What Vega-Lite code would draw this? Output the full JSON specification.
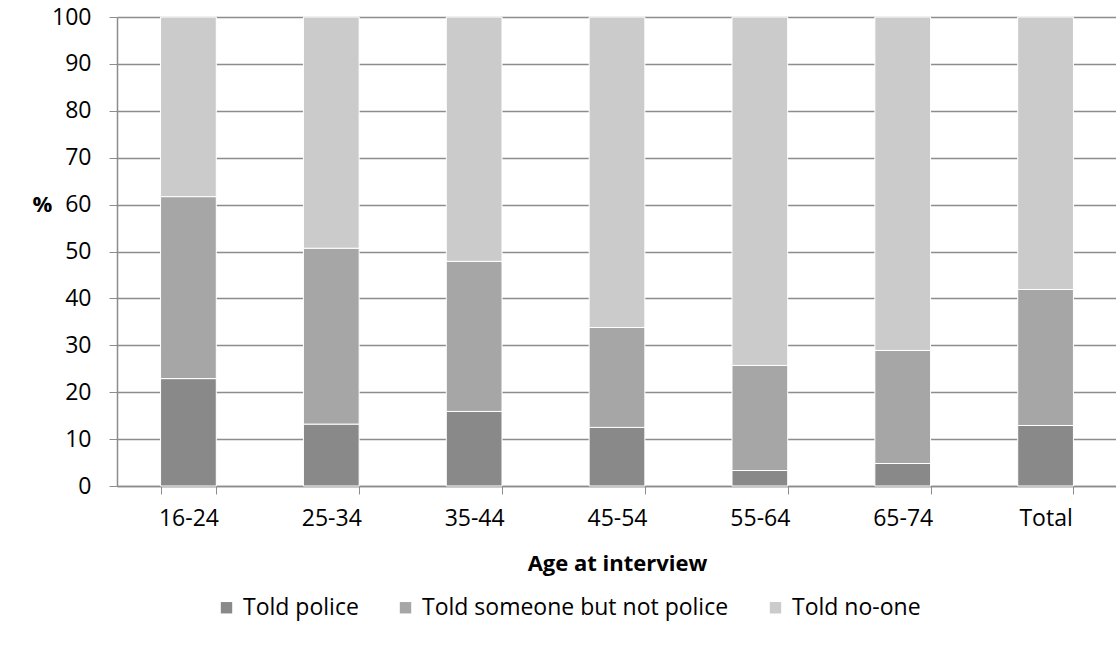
{
  "$schema": "https://vega.github.io/schema/vega-lite/v6.json",
  "width": 1000,
  "height": 469,
  "autosize": {"type": "none"},
  "padding": {"left": 117, "top": 17, "right": 0, "bottom": 163},
  "background": "white",
  "data": {
    "values": [
      {"age": "16-24", "response": "Told police", "seq": 1, "pct": 22.9},
      {"age": "16-24", "response": "Told someone but not police", "seq": 2, "pct": 38.8},
      {"age": "16-24", "response": "Told no-one", "seq": 3, "pct": 38.3},
      {"age": "25-34", "response": "Told police", "seq": 1, "pct": 13.2},
      {"age": "25-34", "response": "Told someone but not police", "seq": 2, "pct": 37.5},
      {"age": "25-34", "response": "Told no-one", "seq": 3, "pct": 49.3},
      {"age": "35-44", "response": "Told police", "seq": 1, "pct": 15.9},
      {"age": "35-44", "response": "Told someone but not police", "seq": 2, "pct": 32.0},
      {"age": "35-44", "response": "Told no-one", "seq": 3, "pct": 52.1},
      {"age": "45-54", "response": "Told police", "seq": 1, "pct": 12.5},
      {"age": "45-54", "response": "Told someone but not police", "seq": 2, "pct": 21.3},
      {"age": "45-54", "response": "Told no-one", "seq": 3, "pct": 66.2},
      {"age": "55-64", "response": "Told police", "seq": 1, "pct": 3.3},
      {"age": "55-64", "response": "Told someone but not police", "seq": 2, "pct": 22.4},
      {"age": "55-64", "response": "Told no-one", "seq": 3, "pct": 74.3},
      {"age": "65-74", "response": "Told police", "seq": 1, "pct": 4.8},
      {"age": "65-74", "response": "Told someone but not police", "seq": 2, "pct": 24.1},
      {"age": "65-74", "response": "Told no-one", "seq": 3, "pct": 71.1},
      {"age": "Total", "response": "Told police", "seq": 1, "pct": 12.9},
      {"age": "Total", "response": "Told someone but not police", "seq": 2, "pct": 29.0},
      {"age": "Total", "response": "Told no-one", "seq": 3, "pct": 58.1}
    ]
  },
  "mark": {"type": "bar", "stroke": "white", "strokeWidth": 1},
  "encoding": {
    "x": {
      "field": "age",
      "type": "nominal",
      "sort": ["16-24", "25-34", "35-44", "45-54", "55-64", "65-74", "Total"],
      "scale": {"paddingInner": 0.61, "paddingOuter": 0.305},
      "axis": {
        "title": "Age at interview",
        "titleFont": "Open Sans",
        "titleFontSize": 22,
        "titleFontWeight": "bold",
        "titleColor": "black",
        "titleY": 77,
        "titleBaseline": "middle",
        "labelFont": "Open Sans",
        "labelFontSize": 23,
        "labelColor": "black",
        "labelAngle": 0,
        "labelPadding": 13,
        "tickBand": "extent",
        "tickSize": 8,
        "tickColor": "#8c8c8c",
        "domainColor": "#8c8c8c",
        "domainWidth": 1.5,
        "grid": false
      }
    },
    "y": {
      "field": "pct",
      "type": "quantitative",
      "stack": "zero",
      "scale": {"domain": [0, 100], "nice": false},
      "axis": {
        "title": "%",
        "titleAngle": 0,
        "titleFont": "Open Sans",
        "titleFontSize": 22,
        "titleFontWeight": "bold",
        "titleColor": "black",
        "titleX": -75,
        "titleY": 187,
        "titleAlign": "center",
        "titleBaseline": "middle",
        "values": [0, 10, 20, 30, 40, 50, 60, 70, 80, 90, 100],
        "labelFont": "Open Sans",
        "labelFontSize": 23,
        "labelColor": "black",
        "labelPadding": 18,
        "tickSize": 8,
        "tickColor": "#8c8c8c",
        "domainColor": "#8c8c8c",
        "domainWidth": 1.5,
        "gridColor": "#8c8c8c",
        "gridWidth": 1.5
      }
    },
    "order": {"field": "seq", "type": "quantitative", "sort": "ascending"},
    "color": {
      "field": "response",
      "type": "nominal",
      "scale": {
        "domain": ["Told police", "Told someone but not police", "Told no-one"],
        "range": ["#898989", "#a6a6a6", "#cbcbcb"]
      },
      "legend": {
        "title": null,
        "orient": "none",
        "direction": "horizontal",
        "legendX": 98,
        "legendY": 579,
        "padding": 0,
        "symbolType": "square",
        "symbolSize": 130,
        "symbolStrokeWidth": 0,
        "labelFont": "Open Sans",
        "labelFontSize": 23,
        "labelLimit": 500,
        "labelColor": "black",
        "labelOffset": 5,
        "columnPadding": 35
      }
    }
  },
  "config": {"view": {"stroke": null}}
}
